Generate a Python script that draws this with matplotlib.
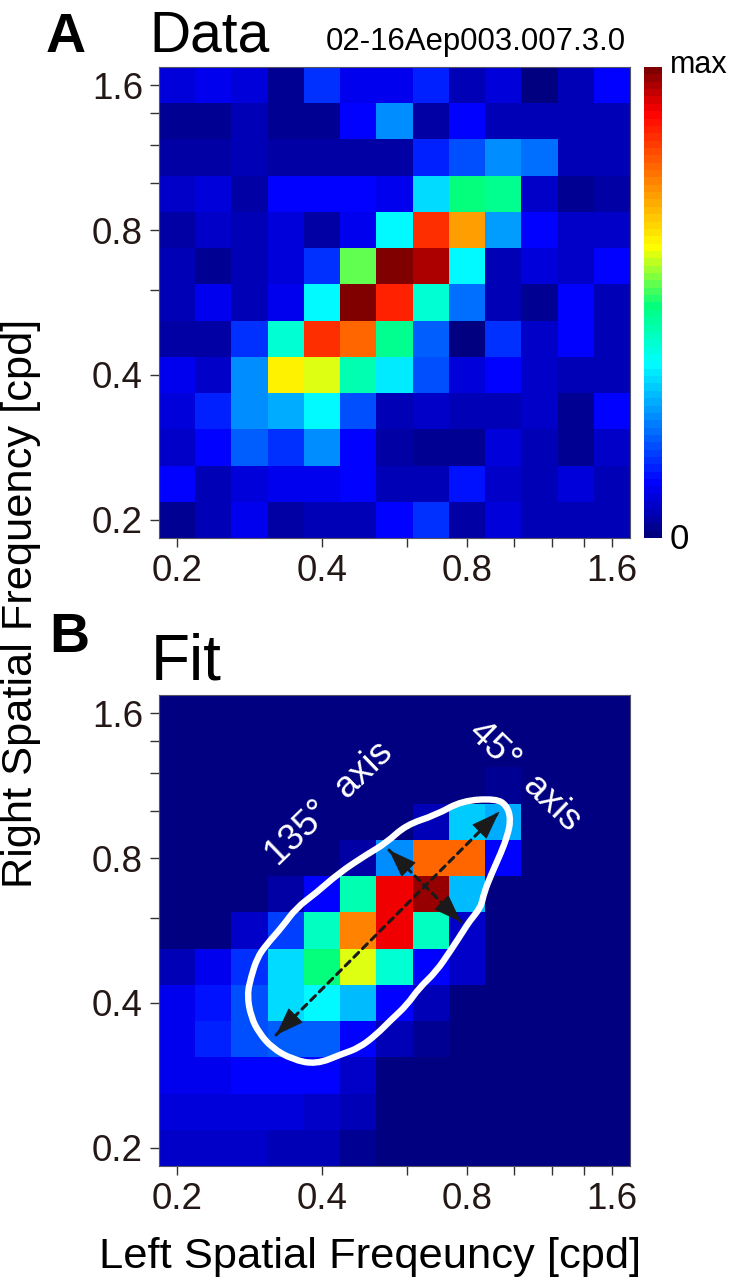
import numpy as np
import matplotlib
matplotlib.use("Agg")
import matplotlib.pyplot as plt
from matplotlib.colors import LinearSegmentedColormap
from matplotlib.patches import PathPatch, FancyArrowPatch
from matplotlib.path import Path

plt.rcParams['font.family'] = ['Liberation Sans', 'DejaVu Sans']

W, H = 729, 1280
TICK_COLOR = '#231815'

tick_values = [0.2, 0.4, 0.6, 0.8, 1.0, 1.2, 1.4, 1.6]
tick_labels = ['0.2', '0.4', '', '0.8', '', '', '', '1.6']

# Rows listed from top (highest right-eye SF) to bottom
data_rows = [
    [.08, .10, .09, .03, .17, .10, .10, .15, .05, .09, .01, .05, .11],
    [.02, .02, .06, .02, .03, .11, .25, .04, .11, .06, .06, .06, .06],
    [.04, .04, .06, .04, .04, .04, .04, .15, .19, .26, .23, .05, .05],
    [.07, .08, .04, .11, .11, .11, .10, .33, .49, .48, .07, .02, .04],
    [.04, .07, .05, .09, .04, .10, .37, .85, .72, .28, .11, .07, .07],
    [.06, .03, .06, .08, .16, .54, .99, .96, .37, .06, .08, .07, .11],
    [.06, .10, .05, .10, .37, .99, .87, .41, .23, .06, .02, .11, .05],
    [.04, .04, .17, .41, .85, .79, .47, .21, .01, .16, .07, .11, .05],
    [.10, .07, .26, .635, .60, .44, .345, .20, .09, .11, .07, .06, .05],
    [.09, .15, .26, .29, .37, .19, .05, .07, .05, .06, .07, .03, .11],
    [.07, .11, .21, .16, .26, .11, .04, .02, .03, .09, .05, .03, .07],
    [.11, .06, .09, .10, .10, .11, .05, .05, .13, .07, .05, .08, .06],
    [.02, .05, .10, .04, .05, .06, .11, .17, .04, .08, .05, .05, .05],
]

fit_rows = [
    [0, 0, 0, 0, 0, 0, 0, 0, 0, 0, 0, 0, 0],
    [0, 0, 0, 0, 0, 0, 0, 0, 0, 0, 0, 0, 0],
    [0, 0, 0, 0, 0, 0, 0, 0, 0, .02, .005, 0, 0],
    [0, 0, 0, 0, 0, 0, 0, .06, .32, .29, 0, 0, 0],
    [0, 0, 0, 0, 0, .045, .26, .79, .79, .11, 0, 0, 0],
    [0, 0, 0, .04, .12, .44, .91, .98, .31, 0, 0, 0, 0],
    [.01, .015, .065, .18, .43, .76, .91, .43, .07, 0, 0, 0, 0],
    [.06, .10, .16, .33, .49, .60, .42, .11, .07, 0, 0, 0, 0],
    [.10, .13, .20, .33, .37, .31, .11, .05, 0, 0, 0, 0, 0],
    [.10, .15, .20, .21, .21, .11, .05, .02, 0, 0, 0, 0, 0],
    [.10, .10, .11, .11, .11, .07, .01, 0, 0, 0, 0, 0, 0],
    [.08, .08, .09, .09, .07, .05, .01, 0, 0, 0, 0, 0, 0],
    [.07, .07, .07, .06, .05, .03, 0, 0, 0, 0, 0, 0, 0],
]

# White contour and axes, in octaves above 0.2 cpd
contour_left_oct = [2.200, 2.276, 2.303, 2.276, 2.234, 2.172, 2.117, 2.097, 2.014, 1.979,
                    1.890, 1.786, 1.669, 1.586, 1.476, 1.372, 1.255, 1.138, .959, .793,
                    .655, .566, .510, .483, .510, .552, .614, .724, .821, .959,
                    1.117, 1.303, 1.441, 1.579, 1.786, 1.966]
contour_right_oct = [2.410, 2.362, 2.262, 2.145, 2.034, 1.897, 1.759, 1.662, 1.559, 1.503,
                     1.366, 1.214, 1.103, .986, .883, .779, .690, .648, .576, .611,
                     .690, .793, .903, 1.055, 1.179, 1.310, 1.400, 1.524, 1.655, 1.759,
                     1.897, 2.021, 2.103, 2.228, 2.297, 2.396]
axis45_oct = [(.683, .779), (2.221, 2.317)]
axis135_oct = [(1.462, 2.055), (1.959, 1.559)]

cmap = LinearSegmentedColormap.from_list('figjet', [
    (0.00, (0, 0, .5)), (0.11, (0, 0, 1)), (0.37, (0, 1, 1)), (0.49, (0, 1, .5)),
    (0.62, (1, 1, 0)), (0.91, (1, 0, 0)), (1.00, (.5, 0, 0))], N=64)


def cpd(o):
    return 0.2 * 2.0 ** np.asarray(o, dtype=float)


edges = cpd((np.arange(14) - 0.5) / 4)
fig = plt.figure(figsize=(W / 100, H / 100), dpi=100)


def px_axes(x0, y0, x1, y1):
    return fig.add_axes([x0 / W, 1 - y1 / H, (x1 - x0) / W, (y1 - y0) / H])


def px_text(x, y, s, **kw):
    kw.setdefault('ha', 'left')
    kw.setdefault('va', 'baseline')
    return fig.text(x / W, 1 - y / H, s, **kw)


def panel(ax, rows):
    z = np.array(rows, dtype=float)[::-1]
    ax.pcolormesh(edges, edges, z, cmap=cmap, vmin=0, vmax=1, antialiased=False, linewidth=0)
    ax.set_xscale('log')
    ax.set_yscale('log')
    ax.set_xlim(edges[0], edges[-1])
    ax.set_ylim(edges[0], edges[-1])
    for axis in (ax.xaxis, ax.yaxis):
        axis.set_major_locator(matplotlib.ticker.FixedLocator(tick_values))
        axis.set_major_formatter(matplotlib.ticker.FixedFormatter(tick_labels))
        axis.set_minor_locator(matplotlib.ticker.NullLocator())
    ax.tick_params(length=6.5, width=1.0, color='#333333', labelsize=26.5,
                   labelcolor=TICK_COLOR, pad=5)
    for s in ax.spines.values():
        s.set_linewidth(0.8)
        s.set_color('#555566')


ax_a = px_axes(159, 67, 630, 538)
panel(ax_a, data_rows)
ax_b = px_axes(159, 695, 630, 1166)
panel(ax_b, fit_rows)

# Closed smooth outline through the read points, drawn in display space so the
# curve stays smooth on the log axes.
cx = cpd(contour_left_oct)
cy = cpd(contour_right_oct)
disp = ax_b.transData.transform(np.column_stack([cx, cy]))
mids = (disp + np.roll(disp, -1, axis=0)) / 2
verts = [mids[-1]]
codes = [Path.MOVETO]
for p, m in zip(disp, mids):
    verts += [p, m]
    codes += [Path.CURVE3, Path.CURVE3]
fig.add_artist(PathPatch(Path(np.array(verts), codes), fill=False, edgecolor='white',
                         linewidth=4.6, joinstyle='round', transform=None, zorder=3))

for seg in (axis45_oct, axis135_oct):
    fig.add_artist(FancyArrowPatch(
        posA=tuple(ax_b.transData.transform(cpd(seg[0]))),
        posB=tuple(ax_b.transData.transform(cpd(seg[1]))),
        arrowstyle='-', color='#1a1a1a', lw=2.2, linestyle=(0, (2.2, 1.8)),
        shrinkA=0, shrinkB=0, transform=None, zorder=4))
    for start, end in ((seg[0], seg[1]), (seg[1], seg[0])):
        ax_b.annotate('', xy=tuple(cpd(end)),
                      xytext=tuple(cpd(np.array(end) + (np.array(start) - np.array(end)) * 0.001)),
                      zorder=5,
                      arrowprops=dict(arrowstyle='-|>,head_length=1.0,head_width=0.36',
                                      mutation_scale=19, color='#1a1a1a', lw=0.5,
                                      shrinkA=0, shrinkB=0))

px_text(330, 804, '135°  axis', color='white', fontsize=26.5, rotation=44,
        ha='center', va='center', rotation_mode='anchor', zorder=6)
px_text(525, 776, '45°  axis', color='white', fontsize=26.5, rotation=-44,
        ha='center', va='center', rotation_mode='anchor', zorder=6)

ax_c = px_axes(644, 67, 662, 538)
ax_c.imshow(np.linspace(1, 0, 64)[:, None], aspect='auto', cmap=cmap, vmin=0, vmax=1,
            interpolation='nearest')
ax_c.set_xticks([])
ax_c.set_yticks([])
for s in ax_c.spines.values():
    s.set_visible(False)

px_text(46, 52, 'A', fontsize=40, fontweight='bold', color='black')
px_text(49, 652, 'B', fontsize=40, fontweight='bold', color='black')
px_text(149, 51, 'Data', fontsize=41, color='black')
px_text(151, 679, 'Fit', fontsize=46, color='black')
px_text(326, 50, '02-16Aep003.007.3.0', fontsize=22.4, color='black')
px_text(670, 73, 'max', fontsize=22, color='black')
px_text(670, 549, '0', fontsize=25, color='black')
px_text(370, 1268, 'Left Spatial Freqeuncy [cpd]', fontsize=31.3, ha='center', color='black')
px_text(21, 603, 'Right Spatial Frequency [cpd]', fontsize=31.2, rotation=90,
        ha='center', va='center', rotation_mode='anchor', color='black')

fig.savefig('out.png', dpi=100)
